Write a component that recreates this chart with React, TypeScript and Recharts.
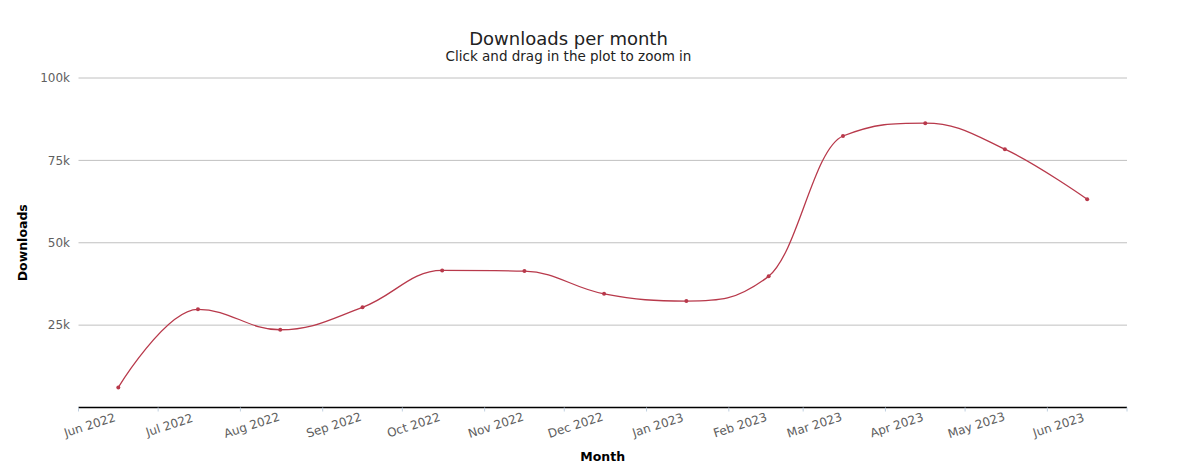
import React from 'react';
import { LineChart, Line, XAxis, YAxis, CartesianGrid } from 'recharts';

// Month categories (year, month index) and downloads per month
const monthYears = [2022, 2022, 2022, 2022, 2022, 2022, 2022, 2023, 2023, 2023, 2023, 2023, 2023];
const monthIndexes = [5, 6, 7, 8, 9, 10, 11, 0, 1, 2, 3, 4, 5];
const downloads = [6100, 29800, 23600, 30400, 41600, 41400, 34500, 32300, 39800, 82400, 86300, 78400, 63200];
const monthLabels = ['Jun 2022', 'Jul 2022', 'Aug 2022', 'Sep 2022', 'Oct 2022', 'Nov 2022', 'Dec 2022', 'Jan 2023', 'Feb 2023', 'Mar 2023', 'Apr 2023', 'May 2023', 'Jun 2023'];
const tickYears = [2022, 2022, 2022, 2022, 2022, 2022, 2022, 2023, 2023, 2023, 2023, 2023, 2023, 2023];
const tickMonths = [5, 6, 7, 8, 9, 10, 11, 0, 1, 2, 3, 4, 5, 6];
const yTicks = [0, 25000, 50000, 75000, 100000];

const DATA_DAY = 16;
const data = downloads.map((v, i) => ({ t: Date.UTC(monthYears[i], monthIndexes[i], DATA_DAY), v }));
const xTicks = tickYears.map((y, i) => Date.UTC(y, tickMonths[i], 1));
const xDomain = [xTicks[0], xTicks[xTicks.length - 1]];

const FONT = "'DejaVu Sans', sans-serif";
const LINE_COLOR = '#b8394b';

// Highcharts-style spline as a d3 curve factory
function hcSpline(context: any) {
  let pts: number[][] = [];
  return {
    areaStart() {},
    areaEnd() {},
    lineStart() { pts = []; },
    point(x: number, y: number) { pts.push([+x, +y]); },
    lineEnd() {
      const n = pts.length;
      if (!n) return;
      const sm = 1.5, den = 2.5;
      const lc: (number[] | null)[] = [];
      const rc: (number[] | null)[] = [];
      for (let i = 0; i < n; i++) {
        if (i > 0 && i < n - 1) {
          const [px, py] = pts[i];
          const [lx, ly] = pts[i - 1];
          const [nx, ny] = pts[i + 1];
          const lcx = (sm * px + lx) / den;
          let lcy = (sm * py + ly) / den;
          const rcx = (sm * px + nx) / den;
          let rcy = (sm * py + ny) / den;
          if (rcx !== lcx) {
            const corr = ((rcy - lcy) * (rcx - px)) / (rcx - lcx) + py - rcy;
            lcy += corr;
            rcy += corr;
          }
          if (lcy > ly && lcy > py) { lcy = Math.max(ly, py); rcy = 2 * py - lcy; }
          else if (lcy < ly && lcy < py) { lcy = Math.min(ly, py); rcy = 2 * py - lcy; }
          if (rcy > ny && rcy > py) { rcy = Math.max(ny, py); lcy = 2 * py - rcy; }
          else if (rcy < ny && rcy < py) { rcy = Math.min(ny, py); lcy = 2 * py - rcy; }
          lc[i] = [lcx, lcy];
          rc[i] = [rcx, rcy];
        } else {
          lc[i] = null;
          rc[i] = null;
        }
      }
      context.moveTo(pts[0][0], pts[0][1]);
      for (let i = 1; i < n; i++) {
        const a = rc[i - 1] || pts[i - 1];
        const b = lc[i] || pts[i];
        context.bezierCurveTo(a[0], a[1], b[0], b[1], pts[i][0], pts[i][1]);
      }
    },
  };
}

const XTick = (props: any) => {
  const { x, y, index } = props;
  const label = monthLabels[index];
  if (!label) return null;
  const tx = x + 12.5;
  const ty = y + 17.5;
  return (
    <text x={tx} y={ty} transform={`rotate(-18, ${tx}, ${ty})`} textAnchor="middle" fill="#606060" fontSize={12} fontFamily={FONT}>
      {label}
    </text>
  );
};

const YTitle = (props: any) => {
  const vb = props.viewBox || {};
  const cx = 22;
  const cy = vb.y + vb.height / 2;
  return (
    <text x={cx} y={cy} transform={`rotate(-90, ${cx}, ${cy})`} textAnchor="middle" dominantBaseline="central" fontWeight="bold" fontSize={12.5} fill="#000" fontFamily={FONT}>
      Downloads
    </text>
  );
};

const XTitle = (props: any) => {
  const vb = props.viewBox || {};
  const cx = vb.x + vb.width / 2;
  return (
    <text x={cx} y={461} textAnchor="middle" fontWeight="bold" fontSize={12.5} fill="#000" fontFamily={FONT}>
      Month
    </text>
  );
};

export default function App() {
  return (
    <div style={{ position: 'absolute', left: 0, top: 0, width: 1200, height: 474, background: '#fff', fontFamily: FONT }}>
      <LineChart width={1200} height={474} data={data} margin={{ top: 78, right: 73, bottom: 0, left: 0 }}>
        <CartesianGrid horizontal vertical={false} stroke="#c0c0c0" />
        <XAxis
          dataKey="t"
          type="number"
          domain={xDomain}
          ticks={xTicks}
          interval={0}
          height={66.5}
          tick={<XTick />}
          tickSize={4}
          tickMargin={0}
          tickLine={{ stroke: '#c0d0e0' }}
          axisLine={{ stroke: '#000', strokeWidth: 1.3 }}
          label={YTitleWrapper(XTitle)}
        />
        <YAxis
          domain={[0, 100000]}
          ticks={yTicks}
          interval={0}
          width={78.5}
          axisLine={false}
          tickLine={false}
          tickSize={0}
          tickMargin={8.5}
          tick={{ fill: '#606060', fontSize: 12, fontFamily: FONT }}
          tickFormatter={(v: number) => (v === 0 ? '' : `${v / 1000}k`)}
          label={YTitleWrapper(YTitle)}
        />
        <Line
          dataKey="v"
          type={hcSpline as any}
          stroke={LINE_COLOR}
          strokeWidth={1.3}
          dot={{ r: 2, fill: LINE_COLOR, stroke: 'none' }}
          activeDot={false}
          isAnimationActive={false}
        />
      </LineChart>
      <svg width={1200} height={474} style={{ position: 'absolute', left: 0, top: 0, pointerEvents: 'none' }}>
        <text x={568.5} y={45} textAnchor="middle" fontSize={18} fill="#222" fontFamily={FONT}>
          Downloads per month
        </text>
        <text x={568.5} y={60.5} textAnchor="middle" fontSize={13.5} fill="#222" fontFamily={FONT}>
          Click and drag in the plot to zoom in
        </text>
      </svg>
    </div>
  );
}

function YTitleWrapper(C: any) {
  return (props: any) => <C {...props} />;
}
